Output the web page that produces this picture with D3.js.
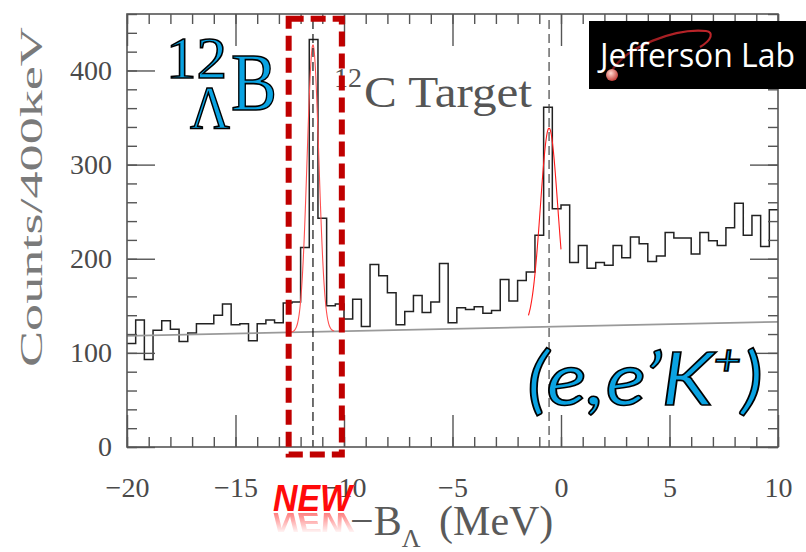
<!DOCTYPE html>
<html>
<head>
<meta charset="utf-8">
<script src="https://cdn.jsdelivr.net/npm/d3@7"></script>
<style>
  html, body { margin: 0; padding: 0; background: #fff; }
  svg { display: block; }
</style>
</head>
<body>
<svg id="chart" width="806" height="552"></svg>
<script>
// Missing-mass spectrum of 12C(e,e'K+)12ΛB, 400 keV bins
const binLow = -20;
const binWidth = 0.4;
const counts = [
  110, 135, 93, 124, 134, 125, 112, 121, 131, 131,
  140, 152, 130, 131, 113, 131, 135, 132, 153, 154,
  212, 433, 243, 150, 152, 136, 157, 128, 194, 182,
  164, 130, 144, 161, 143, 154, 195, 132, 148, 146,
  149, 142, 145, 178, 155, 177, 186, 225, 361, 253,
  257, 196, 214, 190, 196, 193, 214, 201, 223, 216,
  197, 203, 228, 222, 222, 205, 228, 219, 214, 233,
  259, 225, 246, 213, 252
];

// linear background under the peaks
const bgEnds = [-20, 10];
const bgValues = [118, 133];

// gaussian peak fits
const peakCenters = [-11.43, -0.55];
const peakAmps = [305, 211];
const peakSigmas = [0.27, 0.40];
const fitRanges = [[-12.45, -10.45], [-1.5, 0.0]];

const xMajor = [-20, -15, -10, -5, 0, 5, 10];
const xMinor = d3.range(-20, 10.5, 1);
const yMajor = [0, 100, 200, 300, 400];
const yMinor = d3.range(0, 461, 20);

const svg = d3.select("#chart");
const W = 806, H = 552;
const plot = { left: 127, right: 778, top: 14, bottom: 447 };

const x = d3.scaleLinear().domain([-20, 10]).range([plot.left, plot.right]);
const y = d3.scaleLinear().domain([0, 460]).range([plot.bottom, plot.top]);

svg.append("rect").attr("width", W).attr("height", H).attr("fill", "#fff");

const defs = svg.append("defs");

// ---- histogram ----
const steps = counts.map((c, i) => ({ e: binLow + i * binWidth, c }));
steps.push({ e: binLow + counts.length * binWidth, c: counts[counts.length - 1] });
svg.append("path")
  .datum(steps)
  .attr("fill", "none")
  .attr("stroke", "#222")
  .attr("stroke-width", 1.5)
  .attr("d", d3.line().x(d => x(d.e)).y(d => y(d.c)).curve(d3.curveStepAfter));

// ---- background fit ----
const bg = v => bgValues[0] + (bgValues[1] - bgValues[0]) * (v - bgEnds[0]) / (bgEnds[1] - bgEnds[0]);
svg.append("path")
  .datum(bgEnds)
  .attr("fill", "none")
  .attr("stroke", "#9a9a9a")
  .attr("stroke-width", 1.8)
  .attr("d", d3.line().x(d => x(d)).y(d => y(bg(d))));

// ---- peak fits ----
peakCenters.forEach((mu, k) => {
  const [a, b] = fitRanges[k];
  const pts = d3.range(a, b + 1e-9, (b - a) / 120).map(e => ({
    e, v: bg(e) + peakAmps[k] * Math.exp(-((e - mu) ** 2) / (2 * peakSigmas[k] ** 2))
  }));
  svg.append("path")
    .datum(pts)
    .attr("fill", "none")
    .attr("stroke", k === 0 ? "#ff5050" : "#ff1a1a")
    .attr("stroke-width", 1.1)
    .attr("d", d3.line().x(d => x(d.e)).y(d => y(d.v)).curve(d3.curveBasis));
});

// ---- peak position markers ----
peakCenters.forEach((mu, k) => {
  svg.append("line")
    .attr("x1", x(mu)).attr("x2", x(mu))
    .attr("y1", plot.top + 6).attr("y2", plot.bottom)
    .attr("stroke", k === 0 ? "#111" : "#444")
    .attr("stroke-width", 1.2)
    .attr("stroke-dasharray", "9,5");
});

// ---- frame and ticks on all four sides ----
const axisColor = "#555";
function styleAxis(g) {
  g.select(".domain").remove();
  g.selectAll(".tick line").attr("stroke", axisColor).attr("stroke-width", 1.4);
  g.selectAll(".tick text")
    .attr("fill", "#4a4a4a")
    .attr("font-family", "Liberation Serif, serif")
    .attr("font-size", 28);
}
// bottom
svg.append("g").attr("transform", `translate(0,${plot.bottom})`)
  .call(d3.axisBottom(x).tickValues(xMinor).tickSize(-10).tickFormat(""))
  .call(styleAxis);
svg.append("g").attr("transform", `translate(0,${plot.bottom})`)
  .call(d3.axisBottom(x).tickValues(xMajor).tickSize(-32).tickPadding(30)
    .tickFormat(d => d < 0 ? "\u2212" + Math.abs(d) : d))
  .call(styleAxis);
// top
svg.append("g").attr("transform", `translate(0,${plot.top})`)
  .call(d3.axisTop(x).tickValues(xMinor).tickSize(-10).tickFormat(""))
  .call(styleAxis);
svg.append("g").attr("transform", `translate(0,${plot.top})`)
  .call(d3.axisTop(x).tickValues(xMajor).tickSize(-32).tickFormat(""))
  .call(styleAxis);
// left
svg.append("g").attr("transform", `translate(${plot.left},0)`)
  .call(d3.axisLeft(y).tickValues(yMinor).tickSize(-10).tickFormat(""))
  .call(styleAxis);
svg.append("g").attr("transform", `translate(${plot.left},0)`)
  .call(d3.axisLeft(y).tickValues(yMajor).tickSize(-28).tickPadding(15))
  .call(styleAxis);
// right
svg.append("g").attr("transform", `translate(${plot.right},0)`)
  .call(d3.axisRight(y).tickValues(yMinor).tickSize(-10).tickFormat(""))
  .call(styleAxis);
svg.append("g").attr("transform", `translate(${plot.right},0)`)
  .call(d3.axisRight(y).tickValues(yMajor).tickSize(-28).tickFormat(""))
  .call(styleAxis);

svg.append("rect")
  .attr("x", plot.left).attr("y", plot.top)
  .attr("width", plot.right - plot.left).attr("height", plot.bottom - plot.top)
  .attr("fill", "none").attr("stroke", axisColor).attr("stroke-width", 1.6);

// ---- axis titles ----
svg.append("text")
  .attr("transform", "translate(42,197) rotate(-90)")
  .attr("text-anchor", "middle")
  .attr("font-family", "Liberation Serif, serif")
  .attr("font-size", 31)
  .attr("fill", "#7a7a7a")
  .attr("textLength", 340)
  .attr("lengthAdjust", "spacingAndGlyphs")
  .text("Counts/400keV");

const xt = svg.append("text")
  .attr("x", 350).attr("y", 535)
  .attr("font-family", "Liberation Serif, serif")
  .attr("font-size", 42)
  .attr("fill", "#5a5a5a");
xt.append("tspan").text("\u2212B");
xt.append("tspan").attr("font-size", 26).attr("dy", 12).text("\u039B");
xt.append("tspan").attr("dy", -12).attr("dx", 8).text(" (MeV)");

// ---- target label ----
const tg = svg.append("text")
  .attr("font-family", "Liberation Serif, serif")
  .attr("fill", "#555");
tg.append("tspan").attr("x", 334).attr("y", 87).attr("font-size", 28).text("12");
svg.append("text")
  .attr("x", 364).attr("y", 107)
  .attr("font-family", "Liberation Serif, serif")
  .attr("font-size", 45)
  .attr("fill", "#555")
  .attr("textLength", 168).attr("lengthAdjust", "spacingAndGlyphs")
  .text("C Target");

// ---- hypernucleus label ----
const blue = "#0aa3e2";
function blueText(t, xp, yp, size, len) {
  svg.append("text")
    .attr("x", xp).attr("y", yp)
    .attr("font-family", "Liberation Serif, serif")
    .attr("font-size", size)
    .attr("fill", blue)
    .attr("stroke", "#000").attr("stroke-width", 1.6)
    .attr("textLength", len).attr("lengthAdjust", "spacingAndGlyphs")
    .text(t);
}
blueText("12", 166, 78, 60, 61);
blueText("B", 231, 110, 82, 46);
blueText("\u039B", 190, 128, 62, 40);

// ---- reaction label ----
const rx = svg.append("text")
  .attr("x", 527).attr("y", 405)
  .attr("font-family", "Lato, sans-serif")
  .attr("font-style", "italic")
  .attr("font-size", 74)
  .attr("fill", blue)
  .attr("stroke", "#000").attr("stroke-width", 1.6)
  .attr("textLength", 236).attr("lengthAdjust", "spacingAndGlyphs");
rx.append("tspan").text("(e,e\u2019K");
rx.append("tspan").attr("font-size", 42).attr("dy", -30).text("+");
rx.append("tspan").attr("dy", 30).text(")");

// ---- highlighted peak box ----
const boxX = [-12.55, -10.1];
const boxY = [-8, 455];
svg.append("rect")
  .attr("x", x(boxX[0])).attr("y", y(boxY[1]))
  .attr("width", x(boxX[1]) - x(boxX[0]))
  .attr("height", y(boxY[0]) - y(boxY[1]))
  .attr("fill", "none")
  .attr("stroke", "#c00000")
  .attr("stroke-width", 6)
  .attr("stroke-dasharray", "15,7");

// ---- NEW tag with reflection ----
const fade = defs.append("linearGradient").attr("id", "fade")
  .attr("x1", 0).attr("y1", 0).attr("x2", 0).attr("y2", 1);
fade.append("stop").attr("offset", "0%").attr("stop-color", "#fff").attr("stop-opacity", 0.55);
fade.append("stop").attr("offset", "100%").attr("stop-color", "#fff").attr("stop-opacity", 0);
defs.append("mask").attr("id", "fadeMask").attr("maskContentUnits", "userSpaceOnUse")
  .append("rect").attr("x", 260).attr("y", 512).attr("width", 110).attr("height", 22)
  .attr("fill", "url(#fade)");

function newText(g) {
  return g.append("text")
    .attr("x", 273).attr("y", 511)
    .attr("font-family", "Liberation Sans, Arial, sans-serif")
    .attr("font-style", "italic")
    .attr("font-weight", "bold")
    .attr("font-size", 37)
    .attr("fill", "#ff0a0a")
    .attr("textLength", 79).attr("lengthAdjust", "spacingAndGlyphs")
    .text("NEW");
}
newText(svg.append("g"));
const refl = svg.append("g").attr("mask", "url(#fadeMask)")
  .append("g").attr("transform", "translate(0,512) scale(1,-0.75) translate(0,-512)");
newText(refl);

// ---- lab logo ----
const logo = svg.append("g");
logo.append("rect").attr("x", 589).attr("y", 21).attr("width", 217).attr("height", 68).attr("fill", "#000");
const swoosh = defs.append("linearGradient").attr("id", "swoosh")
  .attr("x1", 0).attr("y1", 1).attr("x2", 1).attr("y2", 0);
swoosh.append("stop").attr("offset", "0%").attr("stop-color", "#6a0f12");
swoosh.append("stop").attr("offset", "100%").attr("stop-color", "#c2262b");
logo.append("path")
  .attr("d", "M611,72 C626,46 676,28 706,31 C714,32 712,40 700,47")
  .attr("fill", "none").attr("stroke", "url(#swoosh)").attr("stroke-width", 2.2);
const ball = defs.append("radialGradient").attr("id", "ball").attr("cx", "40%").attr("cy", "35%").attr("r", "65%");
ball.append("stop").attr("offset", "0%").attr("stop-color", "#ffd9d0");
ball.append("stop").attr("offset", "100%").attr("stop-color", "#c4413b");
logo.append("circle").attr("cx", 612).attr("cy", 75).attr("r", 6).attr("fill", "url(#ball)");
logo.append("text")
  .attr("x", 600).attr("y", 67)
  .attr("font-family", "Open Sans, sans-serif")
  .attr("font-size", 33)
  .attr("fill", "#fff")
  .attr("textLength", 195).attr("lengthAdjust", "spacingAndGlyphs")
  .text("Jefferson Lab");
</script>
</body>
</html>
